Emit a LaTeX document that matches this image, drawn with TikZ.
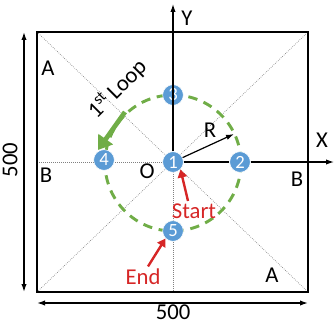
\documentclass[tikz,border=0pt]{standalone}
\usepackage{fontspec}
\setmainfont{Carlito}
\usetikzlibrary{arrows.meta}
\definecolor{ptblue}{RGB}{91,155,213}
\definecolor{loopgreen}{RGB}{112,173,71}
\definecolor{markred}{RGB}{214,38,38}
\tikzset{
  pt/.style={circle, fill=ptblue, draw=white, line width=0.4pt, inner sep=0pt, minimum size=15.5pt, text=white, font=\fontsize{14}{14}\selectfont},
  lbl/.style={font=\fontsize{17}{17}\selectfont, inner sep=1pt},
  guide/.style={densely dotted, gray, line width=0.5pt},
  dimarrow/.style={{Latex[length=6pt,width=4pt]}-{Latex[length=6pt,width=4pt]}, line width=1pt},
}
\begin{document}
\begin{tikzpicture}[x=0.75pt, y=-0.75pt]
			%%%%% START %%%%%
			\useasboundingbox (0, 0) rectangle (334, 324);
			
			\draw[guide] (37, 32) -- (308, 292);
			\draw[guide] (37, 292) -- (308, 32);
			\draw[guide] (37, 162) -- (173, 162);
			\draw[guide] (173, 162) -- (173, 292);
			
			\draw[line width=1.5pt] (37, 32) rectangle (308, 292);
			
			\draw[loopgreen, line width=2.2pt, dash pattern=on 7pt off 5pt] (173, 163) circle (68);
			
			\coordinate (ytip) at (173, 4);
			\coordinate (xtip) at (334, 162);
			\coordinate (rtip) at (234, 134);
			\coordinate (gtail) at (125, 112);
			\coordinate (ghead) at (98, 150);
			
			\node[pt] (p1) at (173, 162) {1};
			\node[pt] (p2) at (240, 162) {2};
			\node[pt] (p3) at (173, 95) {3};
			\node[pt] (p4) at (104, 160) {4};
			\node[pt] (p5) at (173, 231) {5};
			
			\draw[-{Latex[length=6pt,width=4pt]}, line width=0.9pt] (p1) -- (ytip);
			\draw[line width=0.9pt] (p1) -- (p2);
			\draw[-{Latex[length=6pt,width=4pt]}, line width=0.9pt] (p2) -- (xtip);
			\draw[-{Latex[length=6pt,width=4pt]}, line width=0.9pt] (p1) -- (rtip);
			
			\node[lbl] (ylbl) at (187, 18) {Y};
			\node[lbl] (xlbl) at (322, 140) {X};
			\node[lbl] (rlbl) at (210, 130) {R};
			\node[lbl] (olbl) at (147, 171) {O};
			\node[lbl] (a1) at (48, 68) {A};
			\node[lbl] (a2) at (272, 275) {A};
			\node[lbl] (b1) at (46, 175) {B};
			\node[lbl] (b2) at (297, 179) {B};
			
			\node[lbl, rotate=45] (loop) at (117, 89) {1\textsuperscript{st}\,Loop};
			\draw[loopgreen, line width=3.5pt, -{Triangle[length=10pt,width=13pt]}] (gtail) -- (ghead);
			
			\node[lbl, text=markred] (start) at (194, 211) {Start};
			\draw[markred, line width=1.8pt, -{Triangle[length=6pt,width=7pt]}] (start.north) ++(-6, -1) -- (p1.south east);
			\node[lbl, text=markred] (end) at (143, 277) {End};
			\draw[markred, line width=1.8pt, -{Triangle[length=6pt,width=7pt]}] (end.north) ++(5, -1) -- (p5.south west);
			
			\coordinate (ltop) at (24, 32);
			\coordinate (lbot) at (24, 292);
			\draw[dimarrow] (lbot) -- (ltop);
			\node[lbl, rotate=90] (hdim) at (10, 160) {500};
			\coordinate (bl) at (37, 303);
			\coordinate (br) at (308, 303);
			\draw[dimarrow] (bl) -- (br);
			\node[lbl, anchor=base] (wdim) at (173, 319) {500};
			
			%%%%% END %%%%%
\end{tikzpicture}
\end{document}
